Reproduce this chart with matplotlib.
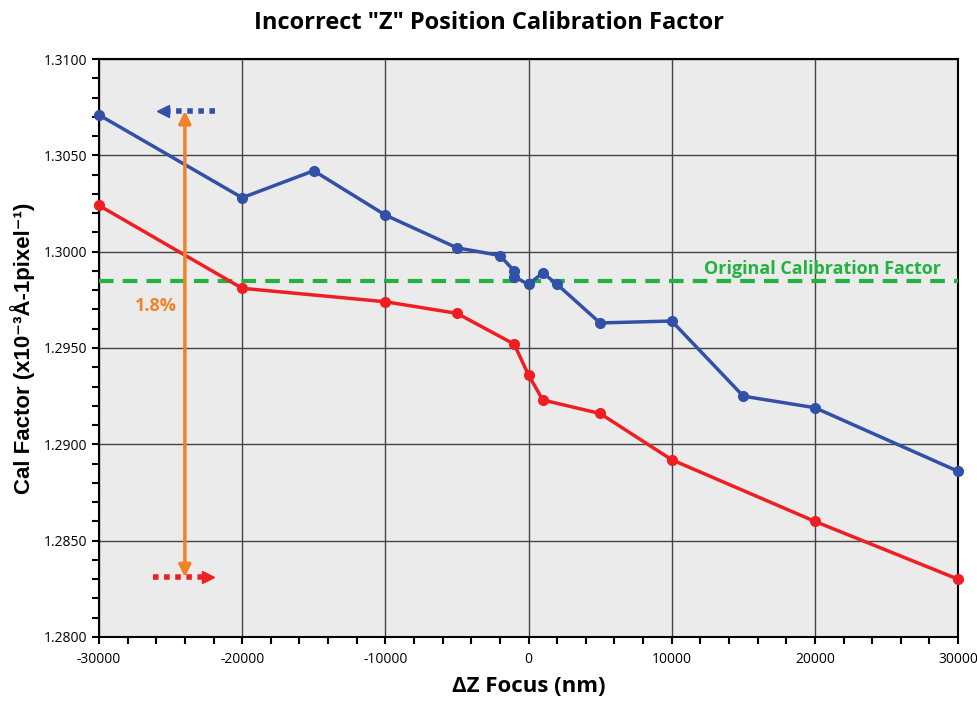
import matplotlib.pyplot as plt
from matplotlib.ticker import MultipleLocator, FormatStrFormatter

plt.rcParams['axes.unicode_minus'] = False

# data
blue_x = [-30000, -20000, -15000, -10000, -5000, -2000, -1000, -1000, 0, 1000, 2000,
          5000, 10000, 15000, 20000, 30000]
blue_y = [1.3071, 1.3028, 1.3042, 1.3019, 1.3002, 1.2998, 1.2990, 1.2987, 1.2983, 1.2989,
          1.2983, 1.2963, 1.2964, 1.2925, 1.2919, 1.2886]
red_x = [-30000, -20000, -10000, -5000, -1000, 0, 1000, 5000, 10000, 20000, 30000]
red_y = [1.3024, 1.2981, 1.2974, 1.2968, 1.2952, 1.2936, 1.2923, 1.2916, 1.2892, 1.2860,
         1.2830]
original_cal = 1.2985

fig = plt.figure(figsize=(9.78, 7.05), dpi=100)
ax = fig.add_axes([0.1012, 0.0965, 0.8784, 0.8198])
ax.set_facecolor('#ebebeb')

ax.plot(blue_x, blue_y, color='#3350a8', lw=2.5, marker='o', ms=7, zorder=4, clip_on=False)
ax.plot(red_x, red_y, color='#f01e23', lw=2.5, marker='o', ms=7, zorder=4, clip_on=False)
ax.axhline(original_cal, color='#22b240', lw=3, ls=(0, (3.5, 2.2)), zorder=3)
ax.text(28800, 1.2991, 'Original Calibration Factor', color='#22b240', fontsize=13,
        fontweight='bold', family='Open Sans', ha='right', va='center')

# orange 1.8% span
ax.annotate('', xy=(-24000, 1.3073), xytext=(-24000, 1.2831),
            arrowprops=dict(arrowstyle='<|-|>', color='#f0822a', lw=2.5,
                            mutation_scale=18, shrinkA=0, shrinkB=0), zorder=5)
ax.text(-26000, 1.2972, '1.8%', color='#f0822a', fontsize=13, fontweight='bold',
        family='Open Sans', ha='center', va='center')

# dotted pointer arrows
ax.plot([-21900, -25300], [1.3073, 1.3073], color='#3350a8', lw=4, ls=(0, (1, 1)), zorder=5)
ax.plot([-25500], [1.3073], marker='<', color='#3350a8', ms=9, zorder=5)
ax.plot([-26200, -22800], [1.2831, 1.2831], color='#f01e23', lw=4, ls=(0, (1, 1)), zorder=5)
ax.plot([-22400], [1.2831], marker='>', color='#f01e23', ms=9, zorder=5)

ax.set_xlim(-30000, 30000)
ax.set_ylim(1.28, 1.31)
ax.xaxis.set_major_locator(MultipleLocator(10000))
ax.xaxis.set_minor_locator(MultipleLocator(2000))
ax.yaxis.set_major_locator(MultipleLocator(0.005))
ax.yaxis.set_minor_locator(MultipleLocator(0.001))
ax.yaxis.set_major_formatter(FormatStrFormatter('%.4f'))
ax.grid(True, which='major', color='#444444', lw=1)
ax.set_axisbelow(True)
ax.tick_params(which='both', direction='out', length=5, width=1.5, labelsize=10)
ax.tick_params(axis='x', pad=6)
for lab in ax.get_xticklabels() + ax.get_yticklabels():
    lab.set_family('Open Sans')
for s in ax.spines.values():
    s.set_linewidth(1.5)

ax.set_xlabel('ΔZ Focus (nm)', fontsize=16, fontweight='bold', family='Open Sans', labelpad=6)
ax.set_ylabel('Cal Factor (x10⁻³Å-1pixel⁻¹)', fontsize=16, fontweight='bold',
              family=['Liberation Sans', 'DejaVu Sans'], labelpad=6)
fig.suptitle('Incorrect "Z" Position Calibration Factor', fontsize=17, fontweight='bold',
             family='Open Sans', y=0.985)

fig.savefig('out.png', dpi=100)
